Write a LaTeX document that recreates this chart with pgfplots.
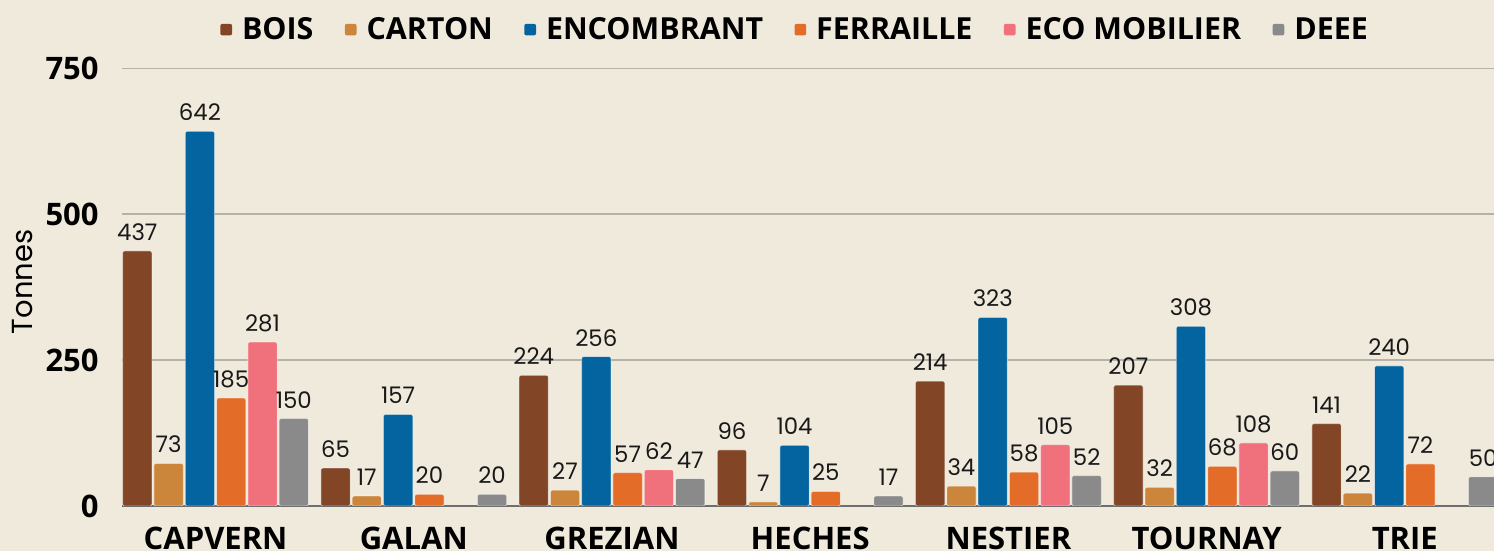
\documentclass[border=0pt]{standalone}
\usepackage{pgfplots}
\pgfplotsset{compat=1.18}
\usepackage{fontspec}
\setmainfont{Open Sans}
\newfontfamily\pop{Poppins}
\definecolor{bg}{HTML}{F0EADD}
\definecolor{cbois}{HTML}{824626}
\definecolor{ccarton}{HTML}{CC863B}
\definecolor{cenc}{HTML}{03649F}
\definecolor{cfer}{HTML}{E26C28}
\definecolor{ceco}{HTML}{F0717B}
\definecolor{cdeee}{HTML}{8A8A8A}
\definecolor{cgrid}{HTML}{B5B2A8}
\definecolor{caxis}{HTML}{6E6E6E}
\begin{document}
\begin{tikzpicture}
\fill[bg] (-61pt,-22.5pt) rectangle (686pt,253pt);
\begin{axis}[
  name=ax, at={(0,0)}, anchor=south west,
  scale only axis, width=686pt, height=218.85pt,
  ymin=0, ymax=750, xmin=-0.472, xmax=6.45,
  ytick={0,250,500,750},
  xtick={0,...,6},
  xticklabels={CAPVERN,GALAN,GREZIAN,HECHES,NESTIER,TOURNAY,TRIE},
  /pgf/number format/assume math mode=true,
  ybar=1pt, bar width=14.65pt,
  legend image code/.code={\fill[#1,draw=none] (0pt,-2.6pt) rectangle (5.85pt,3.2pt);},
  axis x line=bottom, axis y line=left,
  x axis line style={draw=caxis, line width=0.8pt, -},
  y axis line style={draw=none},
  major tick length=0pt, tick style={draw=none},
  ymajorgrids, grid style={draw=cgrid, line width=0.75pt},
  ticklabel style={font=\bfseries\fontsize{15.5}{18}\selectfont, text=black},
  xticklabel style={inner sep=0pt, yshift=-10.5pt},
  yticklabel style={inner sep=0pt, xshift=-11.5pt},
  every axis y label/.style={at={(axis description cs:-0.0722,0.512)}, rotate=90, anchor=center, font=\pop\fontsize{14.5}{17}\selectfont},
  ylabel={Tonnes},
  legend style={at={(axis description cs:0.0714,1.087)}, anchor=west, draw=none, fill=none,
    legend columns=-1, font=\bfseries\fontsize{15.2}{18}\selectfont, inner sep=0pt,
    /tikz/every odd column/.append style={column sep=3pt},
    /tikz/every even column/.append style={column sep=13.7pt}},
  nodes near coords,
  every node near coord/.append style={font=\pop\fontsize{11.4}{14}\selectfont, text=black!90, inner sep=0pt, yshift=5pt, anchor=south},
  clip=true,
]
\addplot[fill=cbois, draw=white, draw opacity=0.5, line width=0.4pt, rounded corners=1pt] coordinates {(0,437) (1,65) (2,224) (3,96) (4,214) (5,207) (6,141)};
\addplot[fill=ccarton, draw=white, draw opacity=0.5, line width=0.4pt, rounded corners=1pt] coordinates {(0,73) (1,17) (2,27) (3,7) (4,34) (5,32) (6,22)};
\addplot[fill=cenc, draw=white, draw opacity=0.5, line width=0.4pt, rounded corners=1pt] coordinates {(0,642) (1,157) (2,256) (3,104) (4,323) (5,308) (6,240)};
\addplot[fill=cfer, draw=white, draw opacity=0.5, line width=0.4pt, rounded corners=1pt] coordinates {(0,185) (1,20) (2,57) (3,25) (4,58) (5,68) (6,72)};
\addplot[fill=ceco, draw=white, draw opacity=0.5, line width=0.4pt, rounded corners=1pt] coordinates {(0,281) (2,62) (4,105) (5,108)};
\addplot[fill=cdeee, draw=white, draw opacity=0.5, line width=0.4pt, rounded corners=1pt] coordinates {(0,150) (1,20) (2,47) (3,17) (4,52) (5,60) (6,50)};
\legend{BOIS,CARTON,ENCOMBRANT,FERRAILLE,ECO MOBILIER,DEEE}
\end{axis}
\pgfresetboundingbox
\path[use as bounding box] (-61pt,-22.5pt) rectangle (686pt,253pt);
\end{tikzpicture}
\end{document}
